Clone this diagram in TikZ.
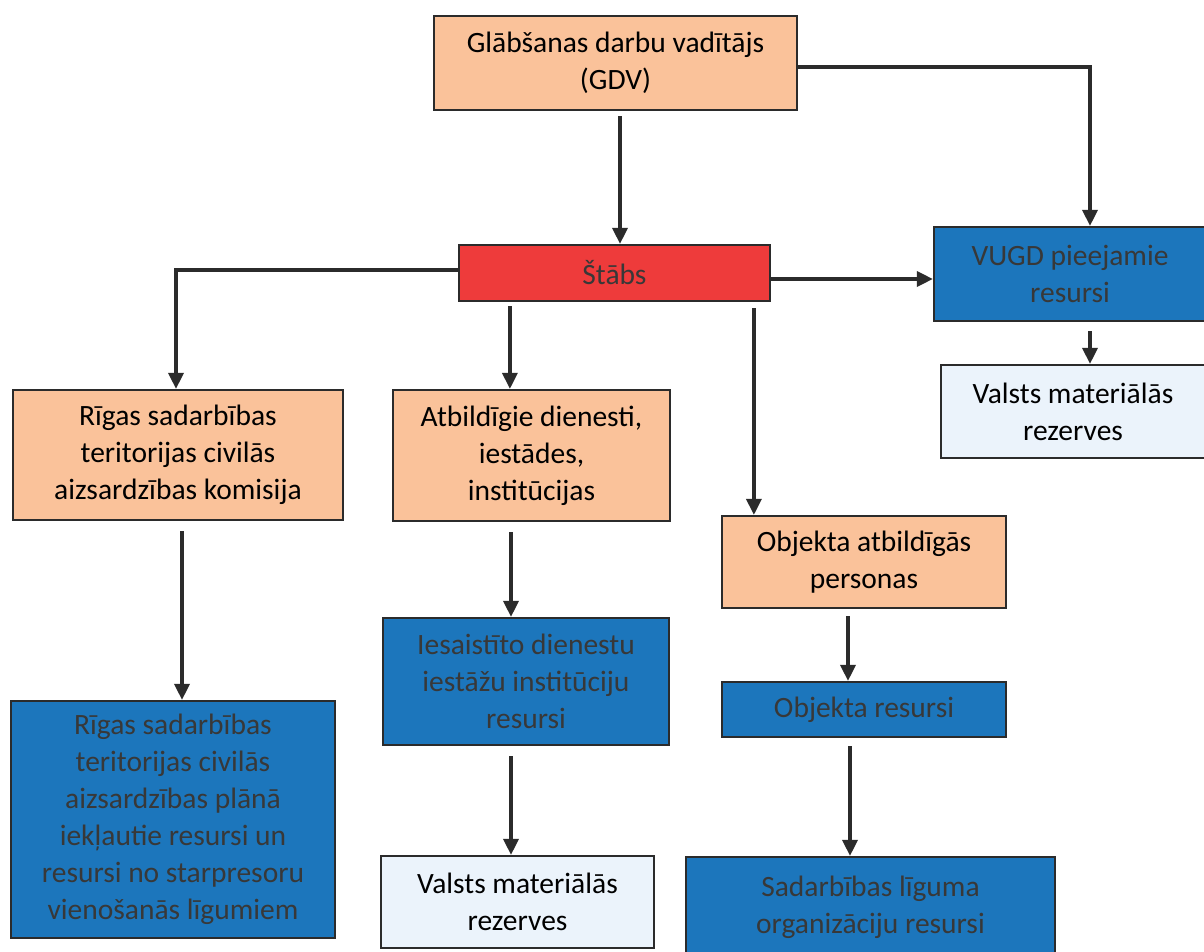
\documentclass[tikz,border=0pt]{standalone}
\usepackage{fontspec}
\setmainfont{Carlito}
\usetikzlibrary{arrows.meta}
\definecolor{peach}{HTML}{FAC29A}
\definecolor{stabred}{HTML}{EE3B3B}
\definecolor{resblue}{HTML}{1C76BC}
\definecolor{lightb}{HTML}{EBF3FB}
\definecolor{edge}{HTML}{2B2B2B}
\definecolor{txtgrey}{HTML}{383838}
\begin{document}
\begin{tikzpicture}[x=1pt,y=-1pt,
  box/.style={draw=edge,line width=2.2pt,inner sep=0pt,align=center,font=\fontsize{29.5}{37}\selectfont},
  orangebox/.style={box,fill=peach,text=black},
  redbox/.style={box,fill=stabred,text=txtgrey},
  bluebox/.style={box,fill=resblue,text=txtgrey},
  lightbox/.style={box,fill=lightb,text=black},
  arr/.style={draw=edge,line width=3.4pt,-{Triangle[length=16pt,width=15pt]}}]
\useasboundingbox (0,0) rectangle (1204,952);
\begin{scope}
\clip (0,0) rectangle (1204,952);
\node[orangebox,minimum width=363,minimum height=94] (gdv) at (615.5,63) {Glābšanas darbu vadītājs\\(GDV)};
\node[redbox,minimum width=311,minimum height=56] (stabs) at (614.5,273) {Štābs};
\node[bluebox,minimum width=272,minimum height=94] (vugd) at (1070,274) {VUGD pieejamie\\resursi};
\node[lightbox,minimum width=264,minimum height=93] (vr) at (1073,411.5) {Valsts materiālās\\rezerves};
\node[orangebox,minimum width=330,minimum height=130] (rso) at (178,455) {Rīgas sadarbības\\teritorijas civilās\\aizsardzības komisija};
\node[orangebox,minimum width=277,minimum height=131] (atb) at (531.5,455.5) {Atbildīgie dienesti,\\iestādes,\\institūcijas};
\node[orangebox,minimum width=284,minimum height=92] (oap) at (864,562) {Objekta atbildīgās\\personas};
\node[bluebox,minimum width=286,minimum height=127] (ies) at (526,681.5) {Iesaistīto dienestu\\iestāžu institūciju\\resursi};
\node[bluebox,minimum width=284,minimum height=55] (ores) at (864,709.5) {Objekta resursi};
\node[bluebox,minimum width=324,minimum height=237] (rsb) at (173,819.5) {Rīgas sadarbības\\teritorijas civilās\\aizsardzības plānā\\iekļautie resursi un\\resursi no starpresoru\\vienošanās līgumiem};
\node[lightbox,minimum width=273,minimum height=92] (vb) at (517.5,902) {Valsts materiālās\\rezerves};
\node[bluebox,minimum width=369,minimum height=100] (sad) at (870.5,907) {Sadarbības līguma\\organizāciju resursi};
\end{scope}
\draw[arr] ([xshift=4.5pt,yshift=-5pt]gdv.south) -- ([xshift=5.5pt]stabs.north);
\draw[arr] ([yshift=-4pt]gdv.east) -| ([xshift=20pt]vugd.north);
\draw[arr] ([yshift=3pt]stabs.west) -| ([xshift=-2pt]rso.north);
\draw[arr] ([xshift=52pt,yshift=-4pt]stabs.south west) -- ([xshift=118pt]atb.north west);
\draw[arr] ([xshift=296pt,yshift=-6pt]stabs.south west) -- ([xshift=33pt]oap.north west);
\draw[arr] ([yshift=-6pt]stabs.east) -- ([yshift=-6pt]stabs.east -| vugd.west);
\draw[arr] ([xshift=20pt,yshift=-9pt]vugd.south) -- ([xshift=17pt]vr.north);
\draw[arr] ([xshift=4pt,yshift=-10pt]rso.south) -- ([xshift=9pt]rsb.north);
\draw[arr] ([xshift=-20.5pt,yshift=-10pt]atb.south) -- ([xshift=-15pt]ies.north);
\draw[arr] ([xshift=-15pt,yshift=-10pt]ies.south) -- ([xshift=-6.5pt]vb.north);
\draw[arr] ([xshift=-16pt,yshift=-7pt]oap.south) -- ([xshift=-16pt]ores.north);
\draw[arr] ([xshift=-14pt,yshift=-8pt]ores.south) -- ([xshift=-20.5pt]sad.north);
\end{tikzpicture}
\end{document}
